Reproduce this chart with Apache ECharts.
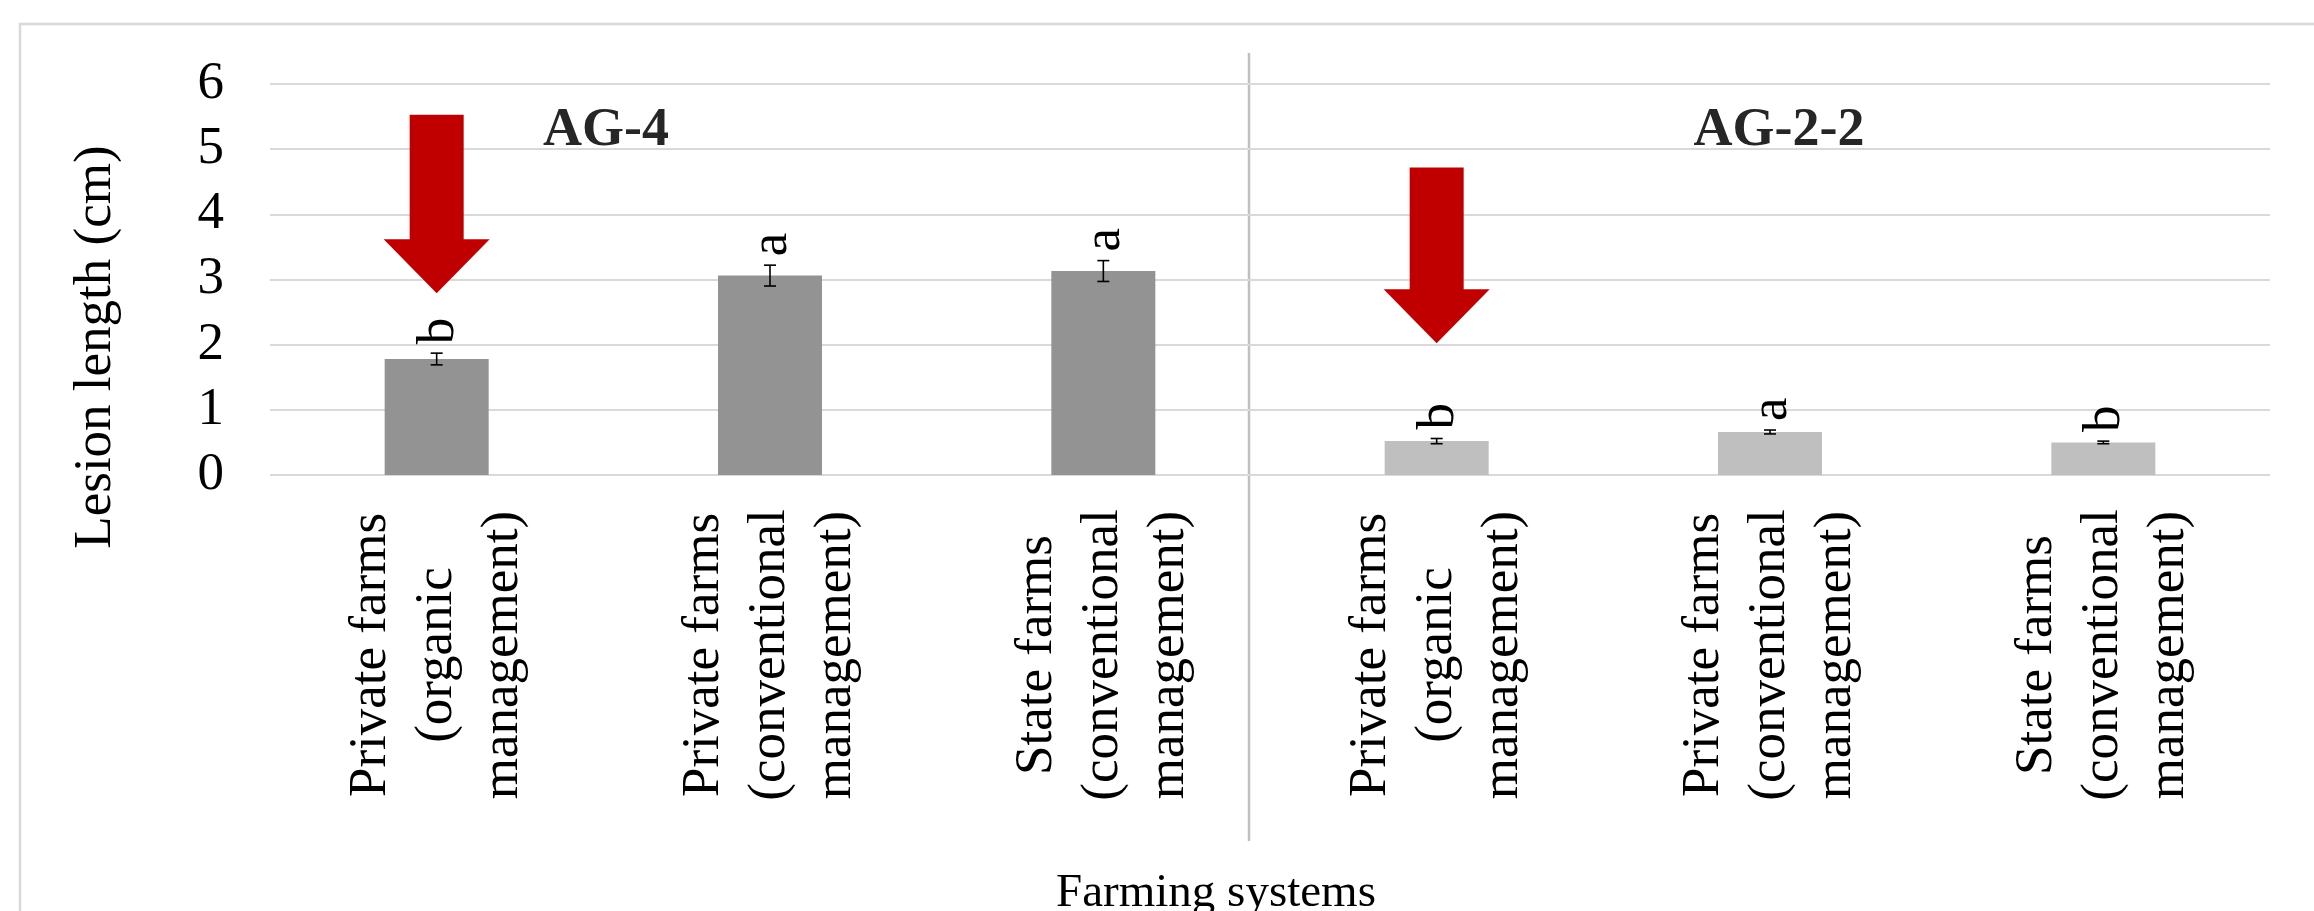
<!DOCTYPE html>
<html>
<head>
<meta charset="utf-8">
<script src="https://cdn.jsdelivr.net/npm/echarts@6/dist/echarts.min.js"></script>
<style>
  html, body { margin: 0; padding: 0; background: #ffffff; }
  #chart { width: 2314px; height: 911px; }
</style>
</head>
<body>
<div id="chart"></div>
<script>
// Pathogen groups and farming systems
const groups = ['AG-4', 'AG-2-2'];
const farmTypes = [
  'Private farms\n(organic\nmanagement)',
  'Private farms\n(conventional\nmanagement)',
  'State farms\n(conventional\nmanagement)'
];

// Mean lesion length (cm), standard error and significance letters
const ag4Means = [1.78, 3.06, 3.13];
const ag4Errors = [0.09, 0.16, 0.16];
const ag4Letters = ['b', 'a', 'a'];
const ag22Means = [0.52, 0.66, 0.50];
const ag22Errors = [0.04, 0.03, 0.02];
const ag22Letters = ['b', 'a', 'b'];

// Highlight arrows: category index, tail value and tip value on the y scale
const arrowCats = [0, 3];
const arrowTails = [5.53, 4.72];
const arrowTips = [2.79, 2.02];

const FONT = '"Liberation Serif", "Times New Roman", serif';

const categories = [];
groups.forEach(g => farmTypes.forEach(f => categories.push(g + '|' + f)));

const n = farmTypes.length;
const blank = new Array(n).fill('-');
const ag4Series = ag4Means.concat(blank);
const ag22Series = blank.concat(ag22Means);

const allMeans = ag4Means.concat(ag22Means);
const allErrors = ag4Errors.concat(ag22Errors);
const allLetters = ag4Letters.concat(ag22Letters);
const errorData = allMeans.map((m, i) => [i, m, allErrors[i]]);
const arrowData = arrowCats.map((c, i) => [c, arrowTails[i], arrowTips[i]]);

const chart = echarts.init(document.getElementById('chart'), null, { renderer: 'canvas' });

chart.setOption({
  backgroundColor: '#ffffff',
  animation: false,
  grid: { left: 270, right: 44, top: 84, bottom: 436, containLabel: false, outerBoundsMode: 'none' },
  xAxis: {
    type: 'category',
    data: categories,
    boundaryGap: true,
    axisLine: { show: false },
    axisTick: { show: false },
    axisLabel: {
      interval: 0,
      rotate: 90,
      align: 'center',
      verticalAlign: 'middle',
      margin: 180,
      lineHeight: 66,
      fontSize: 53,
      fontFamily: FONT,
      color: '#000000',
      formatter: v => v.split('|')[1]
    }
  },
  yAxis: {
    type: 'value',
    min: 0,
    max: 6,
    interval: 1,
    axisLine: { show: false },
    axisTick: { show: false },
    axisLabel: { margin: 46, fontSize: 53, fontFamily: FONT, color: '#000000' },
    splitLine: { lineStyle: { color: '#d9d9d9', width: 2 } }
  },
  series: [
    {
      name: 'AG-4', type: 'bar', stack: 'all', data: ag4Series,
      barWidth: 104, itemStyle: { color: '#939393' }
    },
    {
      name: 'AG-2-2', type: 'bar', stack: 'all', data: ag22Series,
      barWidth: 104, itemStyle: { color: '#bfbfbf' }
    },
    {
      name: 'error', type: 'custom', data: errorData, z: 5,
      renderItem: function (params, api) {
        const idx = api.value(0), mean = api.value(1), err = api.value(2);
        const top = api.coord([idx, mean + err]);
        const bot = api.coord([idx, mean - err]);
        const x = top[0];
        const cap = 6;
        const ls = { stroke: '#000000', lineWidth: 1.6 };
        return {
          type: 'group',
          children: [
            { type: 'line', shape: { x1: x, y1: top[1], x2: x, y2: bot[1] }, style: ls },
            { type: 'line', shape: { x1: x - cap, y1: top[1], x2: x + cap, y2: top[1] }, style: ls },
            { type: 'line', shape: { x1: x - cap, y1: bot[1], x2: x + cap, y2: bot[1] }, style: ls },
            {
              type: 'text', x: x + 2, y: top[1] - 9, rotation: Math.PI / 2,
              style: {
                text: allLetters[params.dataIndex], x: 0, y: 0,
                align: 'left', verticalAlign: 'middle',
                font: '53px ' + FONT, fill: '#000000'
              }
            }
          ]
        };
      }
    },
    {
      name: 'arrows', type: 'custom', data: arrowData, z: 6,
      renderItem: function (params, api) {
        const idx = api.value(0);
        const tail = api.coord([idx, api.value(1)]);
        const tip = api.coord([idx, api.value(2)]);
        const x = tail[0];
        const shaft = 27, head = 53, headLen = 54;
        const hb = tip[1] - headLen;
        return {
          type: 'polygon',
          shape: {
            points: [
              [x - shaft, tail[1]], [x + shaft, tail[1]], [x + shaft, hb],
              [x + head, hb], [x, tip[1]], [x - head, hb], [x - shaft, hb]
            ]
          },
          style: { fill: '#c00000' }
        };
      }
    }
  ],
  graphic: [
    {
      type: 'rect', z: 0, silent: true,
      shape: { x: 20, y: 24, width: 2400, height: 1000 },
      style: { fill: 'none', stroke: '#d9d9d9', lineWidth: 2.5 }
    },
    {
      type: 'line', silent: true,
      shape: { x1: 1249, y1: 53, x2: 1249, y2: 841 },
      style: { stroke: '#bfbfbf', lineWidth: 2.5 }
    },
    {
      type: 'text', x: 96, y: 347, rotation: Math.PI / 2,
      style: { text: 'Lesion length (cm)', align: 'center', verticalAlign: 'middle', font: '53px ' + FONT, fill: '#000000' }
    },
    {
      type: 'text', x: 606, y: 131,
      style: { text: groups[0], align: 'center', verticalAlign: 'middle', font: 'bold 54px ' + FONT, fill: '#262626' }
    },
    {
      type: 'text', x: 1779, y: 131,
      style: { text: groups[1], align: 'center', verticalAlign: 'middle', font: 'bold 54px ' + FONT, fill: '#262626' }
    },
    {
      type: 'text', x: 1216, y: 894,
      style: { text: 'Farming systems', align: 'center', verticalAlign: 'middle', font: '47px ' + FONT, fill: '#000000' }
    }
  ]
});
</script>
</body>
</html>
